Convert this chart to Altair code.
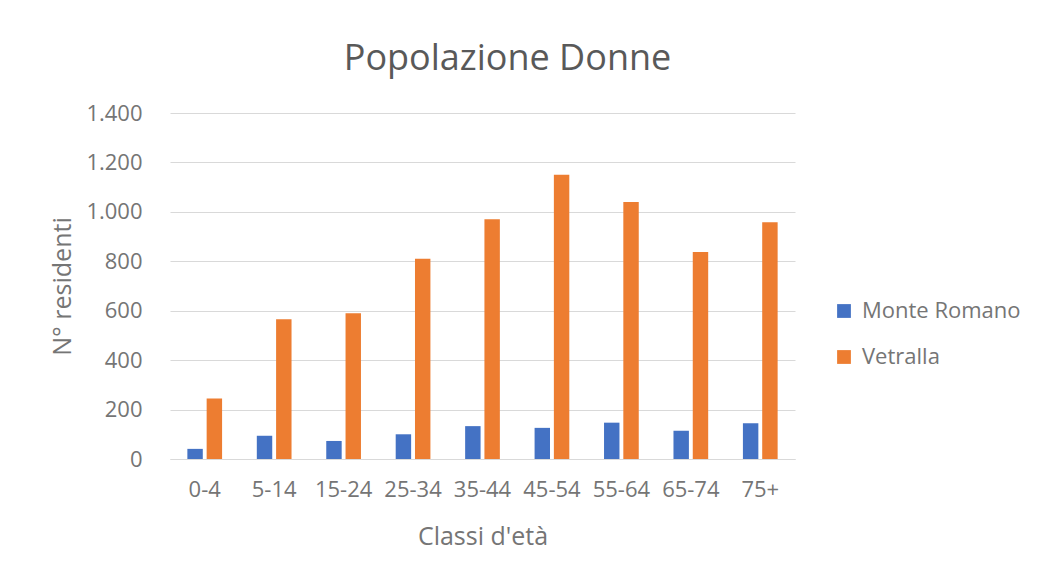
import altair as alt
import pandas as pd

categories = ["0-4", "5-14", "15-24", "25-34", "35-44", "45-54", "55-64", "65-74", "75+"]
monte_romano = [41, 94, 73, 100, 133, 126, 147, 114, 145]
vetralla = [245, 565, 590, 810, 970, 1150, 1040, 838, 958]
series = ["Monte Romano", "Vetralla"]
colors = ["#4472C4", "#ED7D31"]
y_ticks = [0, 200, 400, 600, 800, 1000, 1200, 1400]

rows = []
for i, c in enumerate(categories):
    rows.append({"classe": c, "serie": series[0], "valore": monte_romano[i]})
    rows.append({"classe": c, "serie": series[1], "valore": vetralla[i]})
df = pd.DataFrame(rows)

FONT = "Open Sans"
GRAY = "#595959"
LGRAY = "#757575"

chart = alt.Chart(df).mark_bar().encode(
    x=alt.X("classe:N", sort=categories,
            scale=alt.Scale(paddingInner=0.5, paddingOuter=0.25),
            axis=alt.Axis(title="Classi d'età", labelAngle=0, ticks=False,
                          domainColor="#D9D9D9", labelColor=LGRAY, titleColor=LGRAY,
                          labelFontSize=22, titleFontSize=25, labelPadding=20,
                          titlePadding=24, labelFont=FONT, titleFont=FONT,
                          labelOverlap=False, titleFontWeight="normal")),
    xOffset=alt.XOffset("serie:N", sort=series, scale=alt.Scale(paddingInner=0.2)),
    y=alt.Y("valore:Q", scale=alt.Scale(domain=[0, 1400]),
            axis=alt.Axis(title="N° residenti", values=y_ticks, ticks=False, domain=False,
                          gridColor="#D9D9D9", labelColor=LGRAY, titleColor=LGRAY,
                          labelFontSize=22, titleFontSize=25, labelPadding=28,
                          titlePadding=10, labelFont=FONT, titleFont=FONT,
                          titleFontWeight="normal",
                          labelExpr="replace(format(datum.value, ','), ',', '.')")),
    color=alt.Color("serie:N", sort=series,
                    scale=alt.Scale(domain=series, range=colors),
                    legend=alt.Legend(title=None, orient="none", legendX=663, legendY=187,
                                      symbolType="square", symbolSize=190,
                                      labelFontSize=22, labelColor=LGRAY, labelFont=FONT,
                                      labelOffset=7, rowPadding=24, symbolStrokeWidth=0)),
).properties(
    width=625,
    height=346,
    title=alt.TitleParams("Popolazione Donne", fontSize=36, color=GRAY, font=FONT,
                          fontWeight="normal", anchor="middle", dx=25, offset=24),
    padding={"left": 162, "top": 105, "right": 234, "bottom": 100},
    autosize=alt.AutoSizeParams(type="none"),
).configure_view(stroke=None)

chart.save("out.html", embed_options={"renderer": "svg", "actions": False})
